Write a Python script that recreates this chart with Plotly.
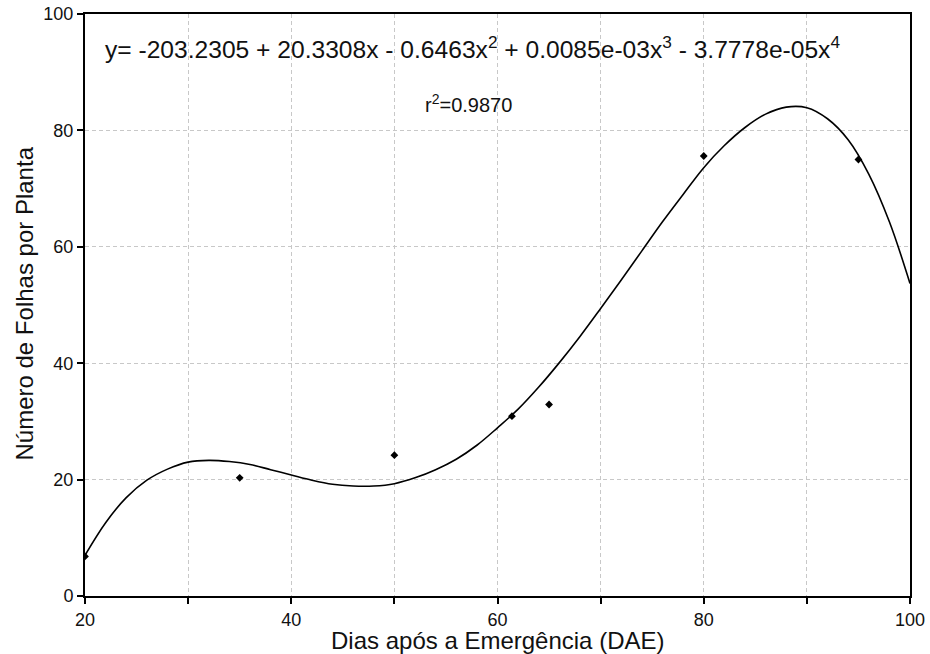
import plotly.graph_objects as go

# observed data points
obs_x = [20, 35, 50, 61.4, 65, 80, 95]
obs_y = [6.8, 20.3, 24.2, 30.9, 32.9, 75.6, 75.0]

# fitted curve
fit_x = [20, 22, 24, 26, 28, 30, 32, 34, 36, 38, 40, 42, 44, 46, 48, 50, 52, 54, 56, 58,
         60, 62, 64, 66, 68, 70, 72, 74, 76, 78, 80, 82, 84, 86, 88, 90, 92, 94, 96, 98, 100]
fit_y = [7.0, 12.6, 16.9, 19.9, 21.8, 23.0, 23.3, 23.1, 22.6, 21.7, 20.8, 19.9, 19.2, 18.9, 18.9,
         19.3, 20.3, 21.7, 23.5, 25.9, 28.9, 32.1, 35.9, 40.1, 44.6, 49.4, 54.3, 59.3, 64.3, 69.0,
         73.6, 77.4, 80.5, 82.8, 84.0, 83.9, 82.0, 78.4, 72.5, 64.3, 53.7]

x_ticks = [20, 30, 40, 50, 60, 70, 80, 90, 100]
x_labels = ["20", "", "40", "", "60", "", "80", "", "100"]
y_ticks = [0, 20, 40, 60, 80, 100]
y_labels = ["0", "20", "40", "60", "80", "100"]

x_title = "Dias após a Emergência (DAE)"
y_title = "Número de Folhas por Planta"
equation = ("y= -203.2305 + 20.3308x - 0.6463x<sup>2</sup> + 0.0085e-03x<sup>3</sup>"
            " - 3.7778e-05x<sup>4</sup>")
r2_text = "r<sup>2</sup>=0.9870"

FONT = "Liberation Sans, Arial, sans-serif"
GRID = "#c8c8c8"

fig = go.Figure()
fig.add_trace(go.Scatter(x=fit_x, y=fit_y, mode="lines",
                         line=dict(color="black", width=1.6, shape="spline", smoothing=1.0),
                         showlegend=False, hoverinfo="skip"))
fig.add_trace(go.Scatter(x=obs_x, y=obs_y, mode="markers",
                         marker=dict(color="black", size=6, symbol="diamond"),
                         showlegend=False))

axis_common = dict(showgrid=True, gridcolor=GRID, griddash="4px,3px", gridwidth=1,
                   showline=True, linecolor="black", linewidth=2, mirror=True,
                   ticks="outside", ticklen=6, tickcolor="black", tickwidth=1.5,
                   tickfont=dict(size=18, color="#111111"), zeroline=False, automargin=False,
                   ticklabeloverflow="allow")

fig.update_layout(
    width=930, height=654,
    margin=dict(l=85, r=20, t=14, b=58),
    paper_bgcolor="white", plot_bgcolor="white",
    font=dict(family=FONT, color="#111111"),
    xaxis=dict(range=[20, 100], tickvals=x_ticks, ticktext=x_labels, **axis_common),
    yaxis=dict(range=[0, 100], tickvals=y_ticks, ticktext=y_labels, **axis_common),
    annotations=[
        dict(x=0.0218, y=0.9416, xref="paper", yref="paper", xanchor="left", yanchor="middle",
             text=equation, showarrow=False, font=dict(size=24.6, color="#111111")),
        dict(x=0.4097, y=0.847, xref="paper", yref="paper", xanchor="left", yanchor="middle",
             text=r2_text, showarrow=False, font=dict(size=20, color="#111111")),
        dict(x=0.5, y=-0.0773, xref="paper", yref="paper", xanchor="center", yanchor="middle",
             text=x_title, showarrow=False, font=dict(size=24, color="#111111")),
        dict(x=-0.0739, y=0.5026, xref="paper", yref="paper", xanchor="center", yanchor="middle",
             text=y_title, textangle=-90, showarrow=False, font=dict(size=24, color="#111111")),
    ],
)

fig.write_html("out.html", config={"displayModeBar": False},
               post_script="document.body.style.margin='0';document.body.style.overflow='hidden';")
